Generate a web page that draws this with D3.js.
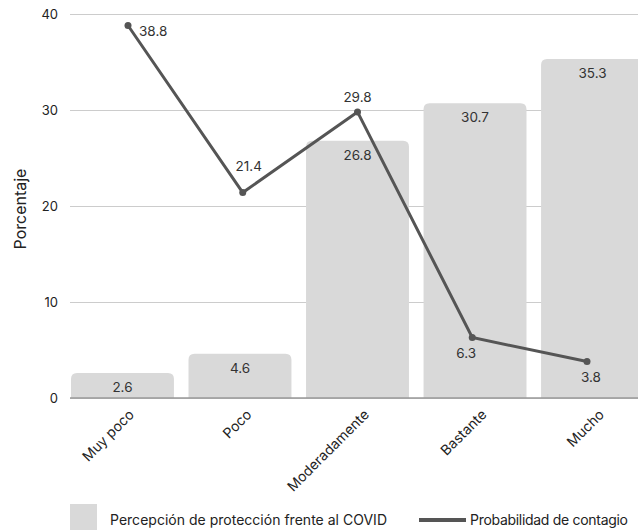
<!DOCTYPE html>
<html>
<head>
<meta charset="utf-8">
<script src="https://cdn.jsdelivr.net/npm/d3@7"></script>
<style>
  html, body { margin: 0; padding: 0; background: #fff; }
  svg { display: block; font-family: Inter, "Noto Sans", sans-serif; }
</style>
</head>
<body>
<svg id="chart" width="638" height="530"></svg>
<script>
// Categories and series
const categories = ["Muy poco", "Poco", "Moderadamente", "Bastante", "Mucho"];
const proteccion = [2.6, 4.6, 26.8, 30.7, 35.3];   // bars
const contagio = [38.8, 21.4, 29.8, 6.3, 3.8];     // line
const yTicks = [0, 10, 20, 30, 40];
const seriesNames = ["Percepción de protección frente al COVID", "Probabilidad de contagio"];
// where each line label sits relative to its point
const lineLabelSide = ["right", "above", "above", "below", "below"];

const svg = d3.select("#chart");
const W = 638, H = 530;

const y = d3.scaleLinear().domain([0, 40]).range([398, 14]);
const xBand = d3.scaleBand().domain(categories).range([71, 644]).paddingInner(0.124).paddingOuter(0);
const xLine = d3.scalePoint().domain(categories).range([128, 587]);

const barColor = "#d9d9d9";
const lineColor = "#555555";
const textColor = "#333333";

// gridlines + y tick labels
const yAxis = d3.axisLeft(y).tickValues(yTicks).tickSize(-(W - 70)).tickPadding(12).tickFormat(d3.format("d"));
const gy = svg.append("g").attr("transform", "translate(70,0)").call(yAxis);
gy.select(".domain").remove();
gy.selectAll(".tick line").attr("stroke", "#cccccc").attr("stroke-width", 1);
gy.selectAll(".tick text").attr("fill", "#222").style("font-size", "13px").style("font-family", "Inter, sans-serif");

// y title
svg.append("text")
  .attr("transform", "translate(26,209) rotate(-90)")
  .attr("text-anchor", "middle")
  .attr("fill", "#222")
  .style("font-size", "16px")
  .text("Porcentaje");

// bars with rounded top corners
const r = 6;
function topRounded(x0, y0, w, h) {
  const rr = Math.min(r, h, w / 2);
  return `M${x0},${y0 + h}V${y0 + rr}Q${x0},${y0} ${x0 + rr},${y0}H${x0 + w - rr}Q${x0 + w},${y0} ${x0 + w},${y0 + rr}V${y0 + h}Z`;
}
svg.append("g").selectAll("path")
  .data(categories)
  .join("path")
  .attr("d", (c, i) => topRounded(xBand(c), y(proteccion[i]), xBand.bandwidth(), y(0) - y(proteccion[i])))
  .attr("fill", barColor);

// x axis baseline
svg.append("line")
  .attr("x1", 70).attr("x2", W)
  .attr("y1", y(0)).attr("y2", y(0))
  .attr("stroke", "#999").attr("stroke-width", 1.5);

// x tick labels
svg.append("g").selectAll("text")
  .data(categories)
  .join("text")
  .attr("transform", c => `translate(${xBand(c) + xBand.bandwidth() / 2 + 9},${412}) rotate(-45)`)
  .attr("text-anchor", "end")
  .attr("dy", "0.35em")
  .attr("fill", "#222")
  .style("font-size", "14px")
  .text(c => c);

// bar value labels
svg.append("g").selectAll("text")
  .data(categories)
  .join("text")
  .attr("x", c => xBand(c) + xBand.bandwidth() / 2)
  .attr("y", (c, i) => y(proteccion[i]) + 19)
  .attr("text-anchor", "middle")
  .attr("fill", textColor)
  .style("font-size", "13.5px")
  .text((c, i) => proteccion[i].toFixed(1));

// line
const line = d3.line().x((d, i) => xLine(categories[i])).y(d => y(d));
svg.append("path")
  .datum(contagio)
  .attr("d", line)
  .attr("fill", "none")
  .attr("stroke", lineColor)
  .attr("stroke-width", 3);

svg.append("g").selectAll("circle")
  .data(contagio)
  .join("circle")
  .attr("cx", (d, i) => xLine(categories[i]))
  .attr("cy", d => y(d))
  .attr("r", 3.5)
  .attr("fill", lineColor);

// line value labels
svg.append("g").selectAll("text")
  .data(contagio)
  .join("text")
  .attr("x", (d, i) => {
    const cx = xLine(categories[i]);
    if (lineLabelSide[i] === "right") return cx + 11;
    if (i === 1) return cx + 6;
    if (lineLabelSide[i] === "below") return cx - 6 + (i === 4 ? 10 : 0);
    return cx;
  })
  .attr("y", (d, i) => {
    const cy = y(d);
    if (lineLabelSide[i] === "right") return cy + 10;
    if (lineLabelSide[i] === "below") return cy + 20;
    return i === 1 ? cy - 22 : cy - 10;
  })
  .attr("text-anchor", (d, i) => lineLabelSide[i] === "right" ? "start" : "middle")
  .attr("fill", textColor)
  .style("font-size", "13.5px")
  .text(d => d.toFixed(1));

// legend
const lg = svg.append("g");
lg.append("rect").attr("x", 70).attr("y", 504).attr("width", 27).attr("height", 30).attr("fill", barColor);
lg.append("text").attr("x", 110).attr("y", 525).attr("fill", "#222").style("font-size", "14px")
  .attr("textLength", 277).attr("lengthAdjust", "spacing").text(seriesNames[0]);
lg.append("line").attr("x1", 419).attr("x2", 466).attr("y1", 520).attr("y2", 520)
  .attr("stroke", lineColor).attr("stroke-width", 4);
lg.append("text").attr("x", 470).attr("y", 525).attr("fill", "#222").style("font-size", "14px")
  .attr("textLength", 158).attr("lengthAdjust", "spacing").text(seriesNames[1]);
</script>
</body>
</html>
